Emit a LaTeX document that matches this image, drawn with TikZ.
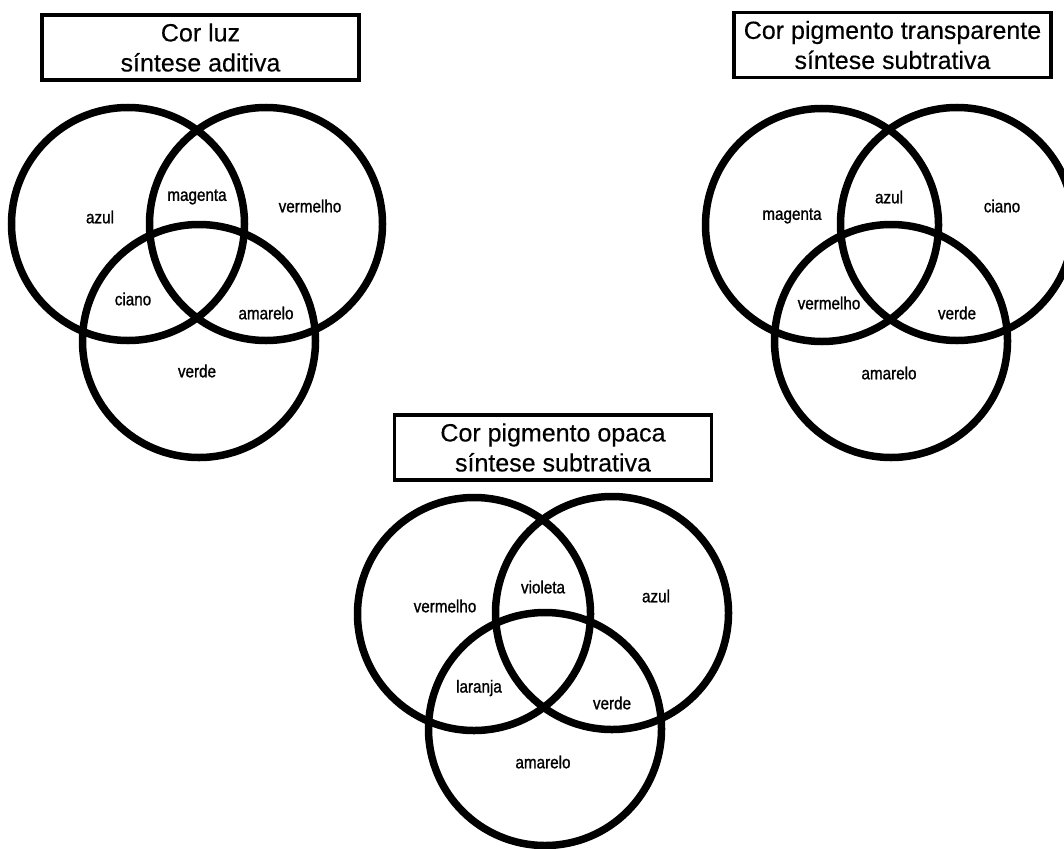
\documentclass[tikz,border=0pt]{standalone}
\usepackage{fontspec}
\setmainfont{Liberation Sans}
\newfontfamily\lblfont[FakeStretch=0.87,FakeBold=1.1]{Liberation Sans}
\newfontfamily\ttlfont[FakeBold=0.3]{Liberation Sans}
\begin{document}
\begin{tikzpicture}[x=1pt,y=-1pt,
  venn/.style={line width=7.5pt},
  titlebox/.style={draw,line width=3.3pt,minimum width=317pt,minimum height=65pt,align=center,inner sep=0pt,
    font=\ttlfont\fontsize{25}{30}\selectfont},
  lbl/.style={font=\lblfont\fontsize{17.5}{20}\selectfont,inner sep=0pt}]
\useasboundingbox (0,0) rectangle (1064,848);
\clip (0,0) rectangle (1064,848);
\fill[white] (0,0) rectangle (1064,848);
% Diagram 1
\node[titlebox] (t1) at (200.5,47.5) {Cor luz\\síntese aditiva};
\draw[venn] (128,224) circle[radius=116.5];
\draw[venn] (266,224) circle[radius=116.5];
\draw[venn] (199,341) circle[radius=116.5];
\node[lbl] (a1) at (100,217) {azul};
\node[lbl] (a2) at (197,197) {magenta};
\node[lbl] (a3) at (310,206) {vermelho};
\node[lbl] (a4) at (133,299) {ciano};
\node[lbl] (a5) at (266,313) {amarelo};
\node[lbl] (a6) at (197,371) {verde};
% Diagram 2
\node[titlebox] (t2) at (892.5,45) {Cor pigmento transparente\\síntese subtrativa};
\draw[venn] (822,225) circle[radius=116.5];
\draw[venn] (957,224) circle[radius=116.5];
\draw[venn] (891,341) circle[radius=116.5];
\node[lbl] (b1) at (792,216) {magenta};
\node[lbl] (b2) at (889,197) {azul};
\node[lbl] (b3) at (1002,206) {ciano};
\node[lbl] (b4) at (829,303) {vermelho};
\node[lbl] (b5) at (957,313) {verde};
\node[lbl] (b6) at (889,373) {amarelo};
% Diagram 3
\node[titlebox] (t3) at (553,447.5) {Cor pigmento opaca\\síntese subtrativa};
\draw[venn] (474,614) circle[radius=116.5];
\draw[venn] (612,613) circle[radius=116.5];
\draw[venn] (545,729) circle[radius=116.5];
\node[lbl] (c1) at (445,606) {vermelho};
\node[lbl] (c2) at (543,587) {violeta};
\node[lbl] (c3) at (656,596) {azul};
\node[lbl] (c4) at (479,688) {laranja};
\node[lbl] (c5) at (612,703) {verde};
\node[lbl] (c6) at (543,762) {amarelo};
\end{tikzpicture}
\end{document}
